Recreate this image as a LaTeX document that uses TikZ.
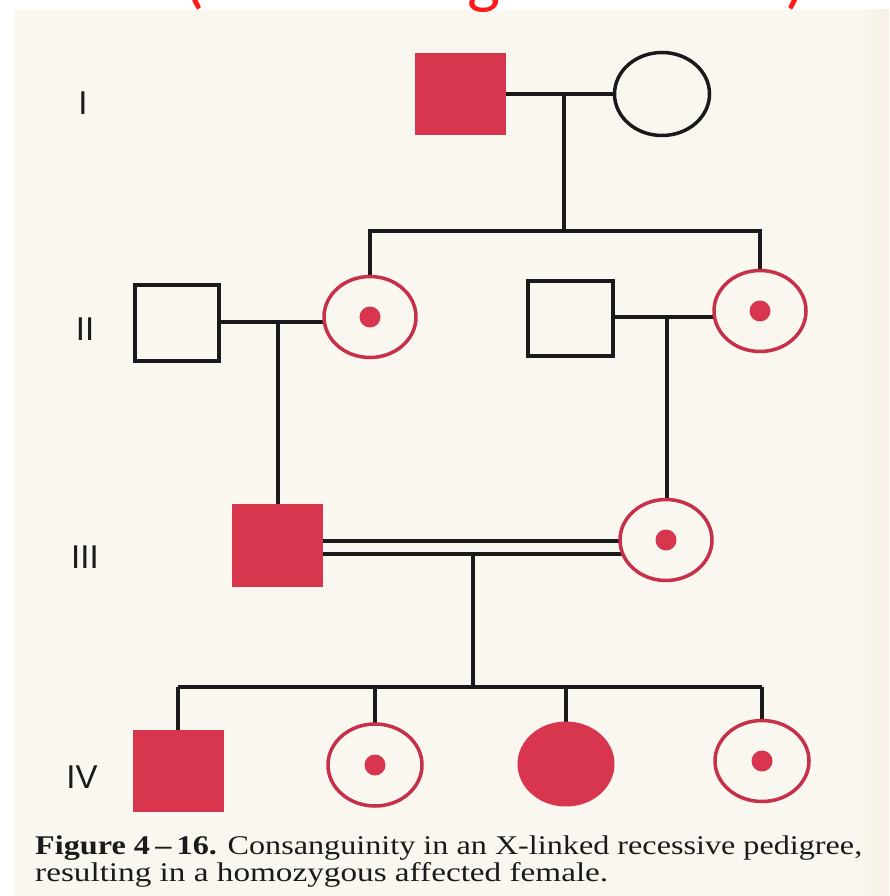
\documentclass[tikz,border=0pt]{standalone}
\usepackage{fontspec}
\setmainfont{Liberation Serif}
\newfontfamily\labelfont{Liberation Sans}
\newfontfamily\headfont{Carlito}
\usetikzlibrary{shapes.geometric,backgrounds}
\definecolor{paper}{HTML}{F9F7EF}
\definecolor{paperedge}{HTML}{F6F0E4}
\definecolor{affected}{HTML}{D8354F}
\definecolor{carrier}{HTML}{C63049}
\definecolor{ink}{HTML}{1A1A1A}
\definecolor{headred}{HTML}{FF1A1A}
\pgfdeclarelayer{paperlayer}
\pgfsetlayers{paperlayer,background,main}

\begin{document}
\begin{tikzpicture}[x=1pt,y=-1pt,
  line/.style={draw=ink,line width=4pt},
  malefill/.style={rectangle,inner sep=0pt,fill=affected,minimum width=91pt,minimum height=82pt},
  maleopen/.style={rectangle,inner sep=0pt,fill=paper,draw=ink,line width=4pt,minimum width=84pt,minimum height=76pt},
  femopen/.style={ellipse,inner sep=0pt,fill=paper,draw=ink,line width=3.5pt,minimum width=95pt,minimum height=83pt},
  femfill/.style={ellipse,inner sep=0pt,fill=affected,minimum width=97pt,minimum height=85pt},
  carrierring/.style={ellipse,inner sep=0pt,fill=paper,draw=carrier,line width=3.5pt,
    minimum width=92pt,minimum height=81pt,
    path picture={\fill[affected] (path picture bounding box.center) circle (10.5pt);}},
  gen/.style={font=\labelfont\fontsize{33}{33}\selectfont,text=ink,anchor=base,inner sep=0pt},
  head/.style={font=\headfont\fontsize{70}{70}\selectfont,text=headred,anchor=base,inner sep=0pt},
  caption/.style={anchor=base west,inner sep=0pt,text=ink},
]
\useasboundingbox (0,0) rectangle (889,896);

% page
\begin{pgfonlayer}{paperlayer}
  \fill[white] (0,0) rectangle (889,896);
  \fill[paper] (14,10) rectangle (889,896);
  \shade[left color=paper,right color=paperedge] (860,10) rectangle (889,896);
\end{pgfonlayer}

% heading, cut off at the top edge
\begin{scope}
  \clip (0,0) rectangle (889,18);
  \node[head] (hl) at (194,1) {(};
  \node[head] (hg) at (484,1) {g};
  \node[head] (hr) at (796,1) {)};
\end{scope}

% generation labels
\node[gen] (gI)   at (83,115) {I};
\node[gen] (gII)  at (85,340) {II};
\node[gen] (gIII) at (85,568) {III};
\node[gen] (gIV)  at (82,788) {IV};

% generation I
\node[malefill] (I1) at (460,94) {};
\node[femopen]  (I2) at (662,94) {};

% generation II
\node[maleopen]    (II1) at (177,323) {};
\node[carrierring] (II2) at (370,317) {};
\node[maleopen,minimum width=85pt,minimum height=75pt] (II3) at (570,318) {};
\node[carrierring] (II4) at (760,311) {};

% generation III
\node[malefill,minimum height=83pt] (III1) at (277,545) {};
\node[carrierring] (III2) at (666,540) {};

% generation IV
\node[malefill]    (IV1) at (178,771) {};
\node[carrierring,minimum width=94pt,minimum height=82pt] (IV2) at (375,765) {};
\node[femfill]     (IV3) at (566,764) {};
\node[carrierring,minimum width=94pt,minimum height=81pt] (IV4) at (762,761) {};

% junction points of the lines of descent
\coordinate (m1) at (564,94);
\coordinate (s1) at (564,231);
\coordinate (m2) at (278,322);
\coordinate (m3) at (667,317);
\coordinate (m4) at (473,554);
\coordinate (s4) at (473,687);

% connectors, drawn beneath the symbols
\begin{pgfonlayer}{background}
  % I
  \draw[line] (I1.center) -- (I2.center);
  \draw[line] (m1) -- (s1);
  \draw[line] (II2.center) -- (II2.center |- s1) -- (II4.center |- s1) -- (II4.center);
  % II
  \draw[line] (II1.center |- m2) -- (II2.center |- m2);
  \draw[line] (m2) -- (m2 |- III1.center);
  \draw[line] (II3.center |- m3) -- (II4.center |- m3);
  \draw[line] (m3) -- (m3 |- III2.center);
  % III, consanguineous mating
  \draw[line] ([yshift=4pt]III1.center) -- ([yshift=4pt]III1.center -| III2.center);
  \draw[line] ([yshift=-9pt]III1.center) -- ([yshift=-9pt]III1.center -| III2.center);
  \draw[line] (m4) -- (s4);
  % IV
  \draw[line] (IV1.center |- s4) -- (IV4.center |- s4);
  \foreach \n in {IV1,IV2,IV3,IV4}
    \draw[line] (\n.center |- s4) -- (\n.center);
\end{pgfonlayer}

% caption
\node[caption] (cap1) at (35,854)
  {\resizebox{827pt}{\height}{\fontsize{27}{27}\selectfont\textbf{Figure 4\,–\,16.} Consanguinity in an X-linked recessive pedigree,}};
\node[caption] (cap2) at (35,881)
  {\resizebox{573pt}{\height}{\fontsize{27}{27}\selectfont resulting in a homozygous affected female.}};
\end{tikzpicture}
\end{document}
